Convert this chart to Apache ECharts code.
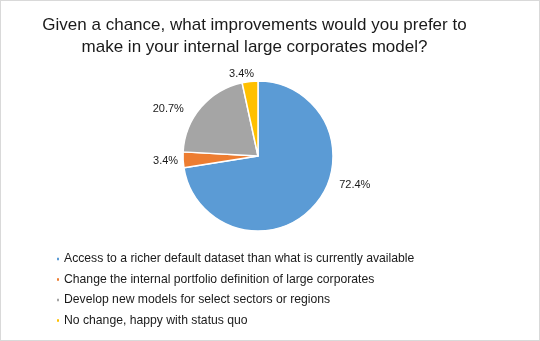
<!DOCTYPE html>
<html>
<head>
<meta charset="utf-8">
<script src="https://cdn.jsdelivr.net/npm/echarts@6/dist/echarts.min.js"></script>
<style>
  html, body { margin: 0; padding: 0; background: #fff; }
  #chart { width: 538px; height: 339px; border: 1px solid #d9d9d9; }
</style>
</head>
<body>
<div id="chart"></div>
<script>
// Survey answers and their shares (percent)
const categories = [
  'Access to a richer default dataset than what is currently available',
  'Change the internal portfolio definition of large corporates',
  'Develop new models for select sectors or regions',
  'No change, happy with status quo'
];
const shares = [72.4, 3.4, 20.7, 3.4];
const sliceColors = ['#5B9BD5', '#ED7D31', '#A5A5A5', '#FFC000'];
const titleText = 'Given a chance, what improvements would you prefer to\nmake in your internal large corporates model?';

// small "best fit" nudges for the percentage labels, per slice
const labelNudge = [[13, -25], [8, 1], [-6, 7], [10, 0]];

const FONT = 'Liberation Sans, Arial, sans-serif';
const chart = echarts.init(document.getElementById('chart'), null, { renderer: 'canvas' });

chart.setOption({
  animation: false,
  color: sliceColors,
  title: {
    text: titleText,
    left: 248.5,
    top: 9,
    textAlign: 'center',
    textStyle: {
      fontFamily: FONT,
      fontSize: 17,
      fontWeight: 'normal',
      color: '#1a1a1a',
      lineHeight: 21.5
    }
  },
  legend: {
    orient: 'vertical',
    left: 49,
    top: 247,
    icon: 'rect',
    itemWidth: 4,
    itemHeight: 4.5,
    itemGap: 8.5,
    textStyle: {
      fontFamily: FONT,
      fontSize: 12.2,
      color: '#1a1a1a',
      padding: [0, 0, 0, -1]
    },
    data: categories
  },
  series: [{
    type: 'pie',
    center: [257, 155],
    radius: [0, 75],
    startAngle: 90,
    clockwise: true,
    itemStyle: { borderColor: '#fff', borderWidth: 1.5 },
    label: {
      show: true,
      position: 'outside',
      formatter: p => p.value.toFixed(1) + '%',
      fontFamily: FONT,
      fontSize: 11,
      color: '#1a1a1a'
    },
    labelLine: { show: false, length: 8, length2: 0 },
    labelLayout: p => ({ dx: labelNudge[p.dataIndex][0], dy: labelNudge[p.dataIndex][1] }),
    data: categories.map((name, i) => ({ name, value: shares[i] }))
  }]
});
</script>
</body>
</html>
